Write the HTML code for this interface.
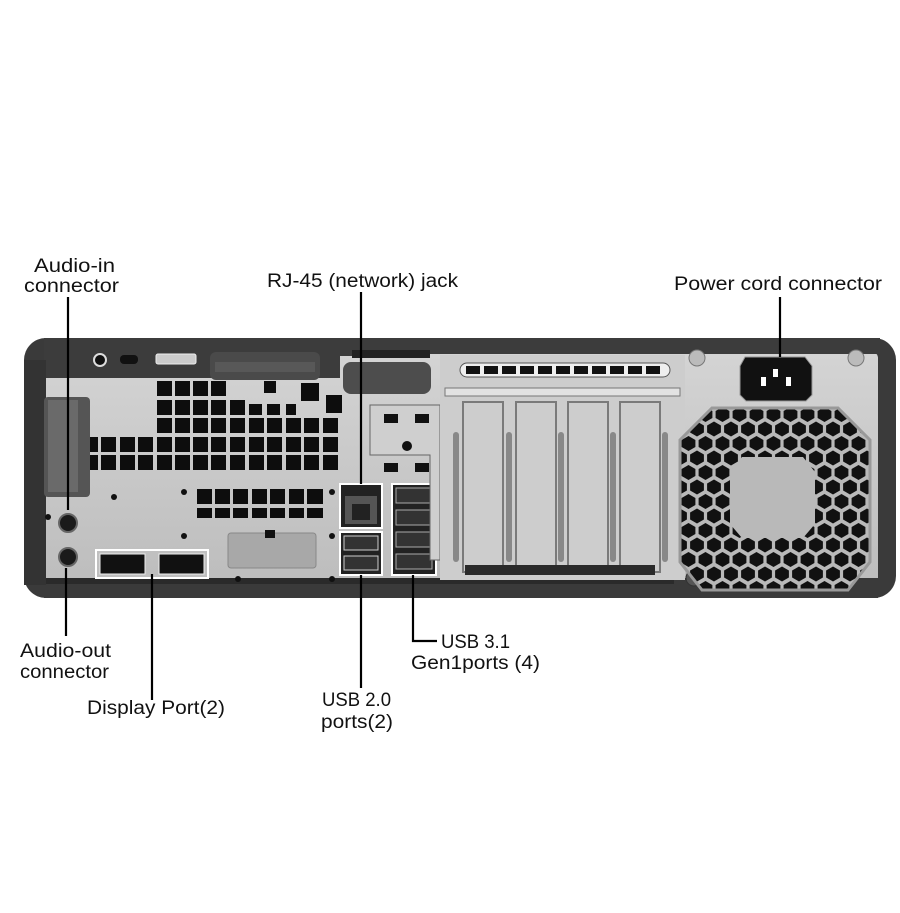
<!DOCTYPE html>
<html><head><meta charset="utf-8"><style>
html,body{margin:0;padding:0;background:#fff;width:900px;height:913px;overflow:hidden}
svg{display:block}
text{font-family:"Liberation Sans",sans-serif;font-size:19px;fill:#111}
</style></head><body>
<svg width="900" height="913" viewBox="0 0 900 913" xmlns="http://www.w3.org/2000/svg">
<defs>
<pattern id="hex" x="680" y="405" width="17" height="29" patternUnits="userSpaceOnUse">
<rect width="17" height="29" fill="#b9b9b9"/>
<polygon points="8.5,2 15.4,6 15.4,13 8.5,17 1.6,13 1.6,6" fill="#111"/>
<polygon points="0,16.5 6.9,20.5 6.9,27.5 0,31.5 -6.9,27.5 -6.9,20.5" fill="#111"/>
<polygon points="17,16.5 23.9,20.5 23.9,27.5 17,31.5 10.1,27.5 10.1,20.5" fill="#111"/>
<polygon points="0,-12.5 6.9,-8.5 6.9,-1.5 0,2.5 -6.9,-1.5 -6.9,-8.5" fill="#111"/>
<polygon points="17,-12.5 23.9,-8.5 23.9,-1.5 17,2.5 10.1,-1.5 10.1,-8.5" fill="#111"/>
</pattern>
<linearGradient id="sil" x1="0" y1="0" x2="0" y2="1"><stop offset="0" stop-color="#d4d4d4"/><stop offset="1" stop-color="#bdbdbd"/></linearGradient>
</defs>

<rect x="24" y="338" width="872" height="260" rx="22" fill="#3a3a3a"/>
<rect x="44" y="352" width="834" height="232" rx="6" fill="url(#sil)"/>
<path d="M44 338 H430 V356 H340 V378 H44 Z" fill="#3c3c3c"/>
<rect x="430" y="338" width="450" height="16" fill="#3c3c3c"/>
<rect x="44" y="578" width="834" height="20" fill="#3a3a3a"/>
<rect x="44" y="578" width="630" height="6" fill="#2a2a2a"/>
<rect x="24" y="360" width="22" height="225" fill="#333"/>
<rect x="44" y="397" width="46" height="100" rx="4" fill="#555"/>
<rect x="48" y="400" width="30" height="92" fill="#6a6a6a"/>
<circle cx="100" cy="360" r="6" fill="#111" stroke="#ddd" stroke-width="2"/>
<rect x="120" y="355" width="18" height="9" rx="4" fill="#111"/>
<rect x="156" y="354" width="40" height="10" rx="2" fill="#ccc" stroke="#eee"/>
<rect x="210" y="352" width="110" height="28" rx="6" fill="#4a4a4a"/>
<rect x="215" y="362" width="100" height="10" fill="#585858"/>
<rect x="343" y="362" width="88" height="32" rx="8" fill="#4d4d4d"/>
<rect x="352" y="350" width="78" height="8" fill="#222"/>
<g fill="#0d0d0d">
<rect x="157" y="381" width="15" height="15"/><rect x="175" y="381" width="15" height="15"/><rect x="193" y="381" width="15" height="15"/><rect x="211" y="381" width="15" height="15"/>
<rect x="264" y="381" width="12" height="12"/><rect x="301" y="383" width="18" height="18"/><rect x="326" y="395" width="16" height="18"/>
<rect x="157" y="400" width="15" height="15"/><rect x="175" y="400" width="15" height="15"/><rect x="193" y="400" width="15" height="15"/><rect x="211" y="400" width="15" height="15"/><rect x="230" y="400" width="15" height="15"/><rect x="249" y="404" width="13" height="11"/><rect x="267" y="404" width="13" height="11"/><rect x="286" y="404" width="10" height="11"/>
</g>
<g fill="#0d0d0d" id="r3">
<rect x="157" y="418" width="15" height="15"/><rect x="175" y="418" width="15" height="15"/><rect x="193" y="418" width="15" height="15"/><rect x="211" y="418" width="15" height="15"/><rect x="230" y="418" width="15" height="15"/><rect x="249" y="418" width="15" height="15"/><rect x="267" y="418" width="15" height="15"/><rect x="286" y="418" width="15" height="15"/><rect x="304" y="418" width="15" height="15"/><rect x="323" y="418" width="15" height="15"/>
</g>
<g fill="#0d0d0d">
<rect x="90" y="437" width="8" height="15"/><rect x="101" y="437" width="15" height="15"/><rect x="120" y="437" width="15" height="15"/><rect x="138" y="437" width="15" height="15"/>
<rect x="90" y="455" width="8" height="15"/><rect x="101" y="455" width="15" height="15"/><rect x="120" y="455" width="15" height="15"/><rect x="138" y="455" width="15" height="15"/>
</g>
<use href="#r3" y="19"/><use href="#r3" y="37"/>
<g fill="#0d0d0d">
<rect x="197" y="489" width="15" height="15"/><rect x="215" y="489" width="15" height="15"/><rect x="233" y="489" width="15" height="15"/><rect x="252" y="489" width="15" height="15"/><rect x="270" y="489" width="15" height="15"/><rect x="289" y="489" width="15" height="15"/><rect x="307" y="489" width="16" height="15"/>
<rect x="197" y="508" width="15" height="10"/><rect x="215" y="508" width="15" height="10"/><rect x="233" y="508" width="15" height="10"/><rect x="252" y="508" width="15" height="10"/><rect x="270" y="508" width="15" height="10"/><rect x="289" y="508" width="15" height="10"/><rect x="307" y="508" width="16" height="10"/>
</g>
<rect x="228" y="533" width="88" height="35" rx="3" fill="#a8a8a8" stroke="#888"/>
<rect x="265" y="530" width="10" height="8" fill="#111"/>
<g fill="#111"><circle cx="114" cy="497" r="3"/><circle cx="184" cy="492" r="3"/><circle cx="332" cy="492" r="3"/><circle cx="48" cy="517" r="3"/><circle cx="184" cy="536" r="3"/><circle cx="332" cy="536" r="3"/><circle cx="238" cy="579" r="3"/><circle cx="332" cy="579" r="3"/></g>
<circle cx="68" cy="523" r="9" fill="#1a1a1a" stroke="#666" stroke-width="2"/>
<circle cx="68" cy="557" r="9" fill="#1a1a1a" stroke="#666" stroke-width="2"/>
<rect x="96" y="550" width="112" height="28" fill="none" stroke="#fff" stroke-width="2"/>
<rect x="100" y="554" width="45" height="20" fill="#111" stroke="#eee"/>
<rect x="159" y="554" width="45" height="20" fill="#111" stroke="#eee"/>
<rect x="340" y="484" width="42" height="44" fill="#222" stroke="#fff" stroke-width="2"/>
<rect x="345" y="496" width="32" height="28" fill="#555"/>
<rect x="352" y="504" width="18" height="16" fill="#222"/>
<rect x="340" y="532" width="42" height="43" fill="#222" stroke="#fff" stroke-width="2"/>
<rect x="344" y="536" width="34" height="14" fill="#333" stroke="#ccc"/>
<rect x="344" y="556" width="34" height="14" fill="#333" stroke="#ccc"/>
<rect x="392" y="484" width="44" height="91" fill="#222" stroke="#fff" stroke-width="2"/>
<rect x="396" y="488" width="36" height="15" fill="#333" stroke="#aaa"/>
<rect x="396" y="510" width="36" height="15" fill="#333" stroke="#aaa"/>
<rect x="396" y="532" width="36" height="15" fill="#333" stroke="#aaa"/>
<rect x="396" y="554" width="36" height="15" fill="#333" stroke="#aaa"/>
<path d="M370 405 H440 V560 H430 V455 H370 Z" fill="#cfcfcf" stroke="#666"/>
<g fill="#111"><rect x="384" y="414" width="14" height="9"/><rect x="415" y="414" width="14" height="9"/><circle cx="407" cy="446" r="5"/><rect x="384" y="463" width="14" height="9"/><rect x="415" y="463" width="14" height="9"/></g>
<rect x="440" y="355" width="245" height="225" fill="#cdcdcd"/>
<rect x="460" y="363" width="210" height="14" rx="7" fill="#eee" stroke="#555"/>
<g fill="#111"><rect x="466" y="366" width="14" height="8"/><rect x="484" y="366" width="14" height="8"/><rect x="502" y="366" width="14" height="8"/><rect x="520" y="366" width="14" height="8"/><rect x="538" y="366" width="14" height="8"/><rect x="556" y="366" width="14" height="8"/><rect x="574" y="366" width="14" height="8"/><rect x="592" y="366" width="14" height="8"/><rect x="610" y="366" width="14" height="8"/><rect x="628" y="366" width="14" height="8"/><rect x="646" y="366" width="14" height="8"/></g>
<rect x="445" y="388" width="235" height="8" fill="#e2e2e2" stroke="#777"/>
<g fill="none" stroke="#7a7a7a" stroke-width="2">
<rect x="463" y="402" width="40" height="170"/><rect x="516" y="402" width="40" height="170"/><rect x="568" y="402" width="40" height="170"/><rect x="620" y="402" width="40" height="170"/>
</g>
<g fill="#888"><rect x="506" y="432" width="6" height="130" rx="3"/><rect x="558" y="432" width="6" height="130" rx="3"/><rect x="610" y="432" width="6" height="130" rx="3"/><rect x="662" y="432" width="6" height="130" rx="3"/><rect x="453" y="432" width="6" height="130" rx="3"/></g>
<rect x="465" y="565" width="190" height="10" fill="#2a2a2a"/>
<circle cx="697" cy="358" r="8" fill="#bbb" stroke="#777"/>
<circle cx="856" cy="358" r="8" fill="#bbb" stroke="#777"/>
<circle cx="694" cy="578" r="8" fill="#555" stroke="#333"/>
<path d="M745 357 H805 L812 366 V395 L806 401 H746 L740 395 V366 Z" fill="#111" stroke="#999"/>
<rect x="761" y="377" width="5" height="9" fill="#fff"/><rect x="773" y="369" width="5" height="8" fill="#fff"/><rect x="786" y="377" width="5" height="9" fill="#fff"/>
<path d="M712 408 H838 L870 440 V562 L848 590 H702 L680 562 V440 Z" fill="url(#hex)" stroke="#999" stroke-width="3"/>
<path d="M742 457 H803 L815 472 V524 L803 538 H742 L730 524 V472 Z" fill="#b9b9b9"/>
<g stroke="#000" stroke-width="2.2" fill="none">
<line x1="68" y1="297" x2="68" y2="510"/>
<line x1="66" y1="568" x2="66" y2="636"/>
<line x1="152" y1="574" x2="152" y2="700"/>
<line x1="361" y1="292" x2="361" y2="484"/>
<line x1="361" y1="575" x2="361" y2="688"/>
<polyline points="413,575 413,641 437,641"/>
<line x1="780" y1="297" x2="780" y2="357"/>
</g>
<text x="34" y="272" textLength="81" lengthAdjust="spacingAndGlyphs">Audio-in</text>
<text x="24" y="292" textLength="95" lengthAdjust="spacingAndGlyphs">connector</text>
<text x="267" y="287" textLength="191" lengthAdjust="spacingAndGlyphs">RJ-45 (network) jack</text>
<text x="674" y="290" textLength="208" lengthAdjust="spacingAndGlyphs">Power cord connector</text>
<text x="20" y="657" textLength="91" lengthAdjust="spacingAndGlyphs">Audio-out</text>
<text x="20" y="678" textLength="89" lengthAdjust="spacingAndGlyphs">connector</text>
<text x="87" y="714" textLength="138" lengthAdjust="spacingAndGlyphs">Display Port(2)</text>
<text x="322" y="706" textLength="69" lengthAdjust="spacingAndGlyphs">USB 2.0</text>
<text x="321" y="728" textLength="72" lengthAdjust="spacingAndGlyphs">ports(2)</text>
<text x="441" y="648" textLength="69" lengthAdjust="spacingAndGlyphs">USB 3.1</text>
<text x="411" y="669" textLength="129" lengthAdjust="spacingAndGlyphs">Gen1ports (4)</text>
</svg>
</body></html>
